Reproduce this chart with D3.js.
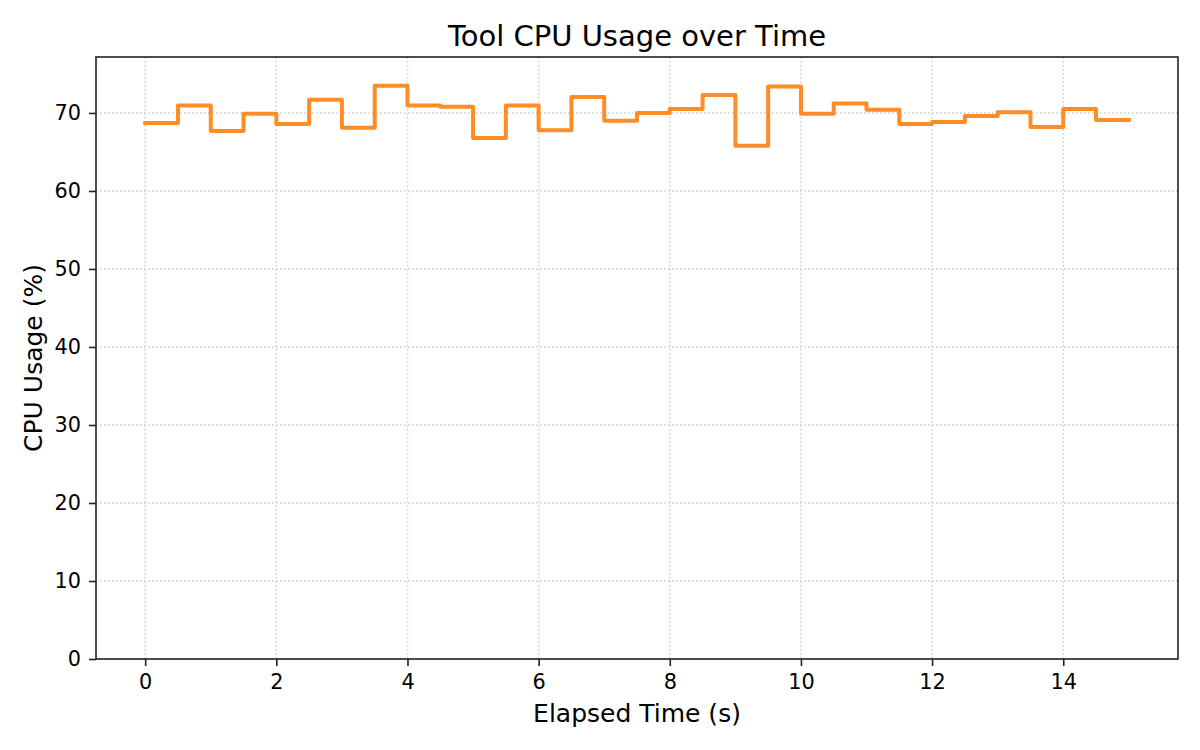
<!DOCTYPE html>
<html>
<head>
<meta charset="utf-8">
<script src="https://cdn.jsdelivr.net/npm/d3@7"></script>
<style>
  body { margin: 0; background: #fff; }
  text { font-family: "DejaVu Sans", sans-serif; fill: #000; }
</style>
</head>
<body>
<div class="canvas"></div>
<script>
// elapsed time (s) and cpu usage (%) - step held from each time to the next
const times = [0, 0.5, 1, 1.5, 2, 2.5, 3, 3.5, 4, 4.5, 5, 5.5, 6, 6.5, 7, 7.5,
    8, 8.5, 9, 9.5, 10, 10.5, 11, 11.5, 12, 12.5, 13, 13.5, 14, 14.5, 15];
const cpuUsage = [68.7, 70.95, 67.7, 69.9, 68.6, 71.7, 68.1, 73.5, 70.95, 70.8,
    66.8, 70.95, 67.8, 72.05, 69.0, 70.0, 70.5, 72.3, 65.8, 73.4,
    69.9, 71.2, 70.4, 68.6, 68.85, 69.6, 70.1, 68.2, 70.5, 69.1, 69.1];
const xTicks = [0, 2, 4, 6, 8, 10, 12, 14];
const yTicks = [0, 10, 20, 30, 40, 50, 60, 70];

const data = times.map((t, i) => ({time: t, cpu: cpuUsage[i]}));

const margin = {top: 57, right: 22, bottom: 91, left: 96};
const width = 1200, height = 750;
const graphWidth = width - margin.left - margin.right;
const graphHeight = height - margin.top - margin.bottom;

const svg = d3.select('.canvas')
    .append('svg')
    .attr('width', width)
    .attr('height', height);

const graph = svg.append('g')
    .attr('transform', `translate(${margin.left}, ${margin.top})`);

const xPad = (d3.max(times) - d3.min(times)) * 0.05;
const x = d3.scaleLinear()
    .domain([d3.min(times) - xPad, d3.max(times) + xPad])
    .range([0, graphWidth]);
const y = d3.scaleLinear()
    .domain([0, d3.max(cpuUsage) * 1.05])
    .range([graphHeight, 0]);

// grid
const grid = graph.append('g').attr('class', 'grid');
grid.selectAll('.gx')
    .data(xTicks)
    .enter().append('line')
    .attr('x1', d => x(d)).attr('x2', d => x(d))
    .attr('y1', 0).attr('y2', graphHeight)
    .attr('stroke', '#cccccc').attr('stroke-width', 1.5)
    .attr('stroke-dasharray', '1.5,2.5');
grid.selectAll('.gy')
    .data(yTicks)
    .enter().append('line')
    .attr('x1', 0).attr('x2', graphWidth)
    .attr('y1', d => y(d)).attr('y2', d => y(d))
    .attr('stroke', '#cccccc').attr('stroke-width', 1.5)
    .attr('stroke-dasharray', '1.5,2.5');

const line = d3.line()
    .x(d => x(d.time))
    .y(d => y(d.cpu))
    .curve(d3.curveStepAfter);

graph.append('path')
    .datum(data)
    .attr('fill', 'none')
    .attr('stroke', '#ff8c24')
    .attr('stroke-width', 4)
    .attr('stroke-linejoin', 'round')
    .attr('stroke-linecap', 'square')
    .attr('d', line);

// frame
graph.append('rect')
    .attr('width', graphWidth)
    .attr('height', graphHeight)
    .attr('fill', 'none')
    .attr('stroke', '#222')
    .attr('stroke-width', 1.6);

const xAxis = d3.axisBottom(x).tickValues(xTicks).tickSize(7).tickPadding(8);
const yAxis = d3.axisLeft(y).tickValues(yTicks).tickSize(7).tickPadding(8);

const xAxisGroup = graph.append('g')
    .attr('transform', `translate(0, ${graphHeight})`)
    .call(xAxis);
const yAxisGroup = graph.append('g').call(yAxis);

[xAxisGroup, yAxisGroup].forEach(g => {
    g.select('.domain').remove();
    g.selectAll('line').attr('stroke', '#222').attr('stroke-width', 1.6);
    g.selectAll('text')
        .style('font-family', '"DejaVu Sans", sans-serif')
        .style('font-size', '20.8px')
        .attr('fill', '#000');
});

svg.append('text')
    .attr('x', margin.left + graphWidth / 2)
    .attr('y', 46)
    .attr('text-anchor', 'middle')
    .style('font-size', '29px')
    .text('Tool CPU Usage over Time');

svg.append('text')
    .attr('x', margin.left + graphWidth / 2)
    .attr('y', 722)
    .attr('text-anchor', 'middle')
    .style('font-size', '25px')
    .text('Elapsed Time (s)');

svg.append('text')
    .attr('transform', `translate(42, ${margin.top + graphHeight / 2}) rotate(-90)`)
    .attr('text-anchor', 'middle')
    .style('font-size', '25px')
    .text('CPU Usage (%)');
</script>
</body>
</html>
